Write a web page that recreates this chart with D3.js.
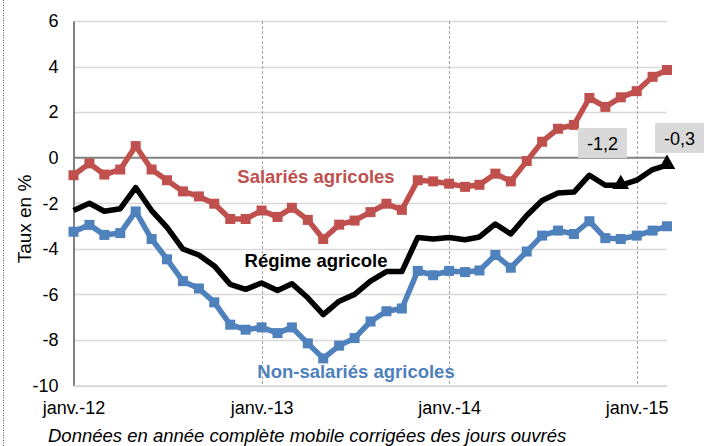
<!DOCTYPE html>
<html>
<head>
<meta charset="utf-8">
<script src="https://cdn.jsdelivr.net/npm/d3@7"></script>
<style>
  body { margin: 0; background: #fff; }
  text { font-family: "Liberation Sans", Arial, sans-serif; }
</style>
</head>
<body>
<div id="chart"></div>
<script>
// monthly points, janv.-12 to mars-15
var months = d3.timeMonth.range(new Date(2012, 0, 1), new Date(2015, 3, 1));

var salaries = [-0.77,-0.25,-0.74,-0.52,0.51,-0.52,-0.99,-1.48,-1.70,-2.02,-2.69,-2.69,
  -2.32,-2.60,-2.20,-2.73,-3.57,-2.94,-2.76,-2.39,-2.02,-2.29,-0.99,-1.04,
  -1.14,-1.28,-1.19,-0.70,-1.04,-0.15,0.70,1.27,1.44,2.62,2.23,2.65,
  2.92,3.55,3.85];
var regime = [-2.32,-2.00,-2.35,-2.24,-1.31,-2.32,-3.06,-4.01,-4.27,-4.75,-5.56,-5.78,
  -5.50,-5.83,-5.53,-6.15,-6.89,-6.30,-6.00,-5.42,-5.00,-5.00,-3.50,-3.57,
  -3.50,-3.60,-3.48,-2.91,-3.35,-2.54,-1.88,-1.55,-1.51,-0.77,-1.21,-1.21,
  -0.99,-0.52,-0.33];
var nonSalaries = [-3.25,-2.95,-3.39,-3.31,-2.36,-3.57,-4.46,-5.42,-5.74,-6.35,-7.33,-7.55,
  -7.45,-7.70,-7.45,-8.15,-8.81,-8.25,-7.92,-7.19,-6.74,-6.62,-4.97,-5.16,
  -4.97,-5.02,-4.95,-4.27,-4.83,-4.12,-3.42,-3.20,-3.35,-2.79,-3.53,-3.57,
  -3.42,-3.20,-3.01];

var yTicks = [-10, -8, -6, -4, -2, 0, 2, 4, 6];
var xTicks = [new Date(2012, 0, 1), new Date(2013, 0, 1), new Date(2014, 0, 1), new Date(2015, 0, 1)];
var xTickLabels = ["janv.-12", "janv.-13", "janv.-14", "janv.-15"];
// points flagged with a triangle and a value box
var flagged = [{i: 35, label: "-1,2"}, {i: 38, label: "-0,3"}];

var width = 713, height = 446;
var plotLeft = 73.5, plotRight = 667, plotTop = 21, plotBottom = 385.5;

var svg = d3.select("#chart")
  .append("svg")
    .attr("width", width)
    .attr("height", height);

var x = d3.scaleTime()
  .domain([months[0], months[months.length - 1]])
  .range([plotLeft, plotRight]);

var y = d3.scaleLinear()
  .domain([-10, 6])
  .range([plotBottom, plotTop]);

// dotted frame edge on the left
svg.append("line")
  .attr("x1", 3.5).attr("x2", 3.5)
  .attr("y1", 0).attr("y2", height)
  .style("stroke", "#555")
  .style("stroke-dasharray", "1,1.5");

// horizontal gridlines
svg.append("g")
  .selectAll("line")
  .data(yTicks.filter(function(d) { return d !== 0; }))
  .enter()
  .append("line")
    .attr("x1", plotLeft).attr("x2", plotRight)
    .attr("y1", function(d) { return Math.round(y(d)) + 0.5; })
    .attr("y2", function(d) { return Math.round(y(d)) + 0.5; })
    .style("stroke", "#d9d9d9")
    .style("stroke-width", 1.3);

// vertical dashed gridlines at each year
svg.append("g")
  .selectAll("line")
  .data(xTicks.slice(1))
  .enter()
  .append("line")
    .attr("x1", function(d) { return Math.round(x(d)) + 0.5; })
    .attr("x2", function(d) { return Math.round(x(d)) + 0.5; })
    .attr("y1", plotTop).attr("y2", plotBottom)
    .style("stroke", "#a6a6a6")
    .style("stroke-dasharray", "3,2");

// zero line
svg.append("line")
  .attr("x1", plotLeft).attr("x2", plotRight)
  .attr("y1", y(0)).attr("y2", y(0))
  .style("stroke", "#808080")
  .style("stroke-width", 2);

// y axis (plain hyphen for negatives, like the original)
var yAxis = svg.append("g")
  .attr("transform", "translate(" + plotLeft + ",0)")
  .call(d3.axisLeft(y).tickValues(yTicks).tickSize(0).tickPadding(15)
    .tickFormat(function(d) { return String(d); }));
yAxis.select(".domain").style("stroke", "#7f7f7f").style("stroke-width", 2);
yAxis.selectAll("text")
  .style("font-size", "18px")
  .style("fill", "#000");

// x axis
var xAxis = svg.append("g")
  .attr("transform", "translate(0," + plotBottom + ")")
  .call(d3.axisBottom(x).tickValues(xTicks).tickSize(0).tickPadding(16)
    .tickFormat(function(d, i) { return xTickLabels[i]; }));
xAxis.select(".domain").style("stroke", "#d9d9d9").style("stroke-width", 1.3);
xAxis.selectAll("text")
  .style("font-size", "18px")
  .style("fill", "#000");

// axis title
svg.append("text")
  .attr("transform", "translate(31,219) rotate(-90)")
  .attr("text-anchor", "middle")
  .style("font-size", "19px")
  .text("Taux en %");

var line = d3.line()
  .x(function(d, i) { return x(months[i]); })
  .y(function(d) { return y(d); });

var series = [
  {values: salaries, color: "#c0504d", markers: true},
  {values: nonSalaries, color: "#4f81bd", markers: true},
  {values: regime, color: "#000000", markers: false}
];

series.forEach(function(s) {
  svg.append("path")
    .datum(s.values)
    .attr("d", line)
    .style("fill", "none")
    .style("stroke", s.color)
    .style("stroke-width", 5.5)
    .style("stroke-linejoin", "round");
  if (s.markers) {
    svg.append("g")
      .selectAll("rect")
      .data(s.values)
      .enter()
      .append("rect")
        .attr("x", function(d, i) { return x(months[i]) - 5; })
        .attr("y", function(d) { return y(d) - 5; })
        .attr("width", 10)
        .attr("height", 10)
        .style("fill", s.color);
  }
});

// triangles on the black line + value boxes
var tri = d3.symbol().type(d3.symbolTriangle).size(120);
flagged.forEach(function(f) {
  var px = x(months[f.i]), py = y(regime[f.i]);
  svg.append("path")
    .attr("d", tri)
    .attr("transform", "translate(" + px + "," + (py - 1) + ")")
    .style("fill", "#000");
});

var boxes = [
  {f: flagged[0], x0: 578, y0: 128, w: 49, h: 30},
  {f: flagged[1], x0: 655, y0: 123, w: 49, h: 30}
];
boxes.forEach(function(b) {
  svg.append("rect")
    .attr("x", b.x0).attr("y", b.y0)
    .attr("width", b.w).attr("height", b.h)
    .style("fill", "#d9d9d9");
  svg.append("text")
    .attr("x", b.x0 + b.w / 2)
    .attr("y", b.y0 + b.h / 2 + 6.5)
    .attr("text-anchor", "middle")
    .style("font-size", "18px")
    .text(b.f.label);
});

// series labels
var labels = [
  {text: "Salariés agricoles", color: "#c0504d", cx: 316, cy: 183},
  {text: "Régime agricole", color: "#000000", cx: 316, cy: 267},
  {text: "Non-salariés agricoles", color: "#4f81bd", cx: 356, cy: 378}
];
svg.selectAll(".slabel")
  .data(labels)
  .enter()
  .append("text")
    .attr("class", "slabel")
    .attr("x", function(d) { return d.cx; })
    .attr("y", function(d) { return d.cy; })
    .attr("text-anchor", "middle")
    .style("font-size", "18.5px")
    .style("font-weight", "bold")
    .style("fill", function(d) { return d.color; })
    .text(function(d) { return d.text; });

// footnote
svg.append("text")
  .attr("x", 48)
  .attr("y", 442)
  .style("font-size", "18.5px")
  .style("font-style", "italic")
  .text("Données en année complète mobile corrigées des jours ouvrés");
</script>
</body>
</html>
